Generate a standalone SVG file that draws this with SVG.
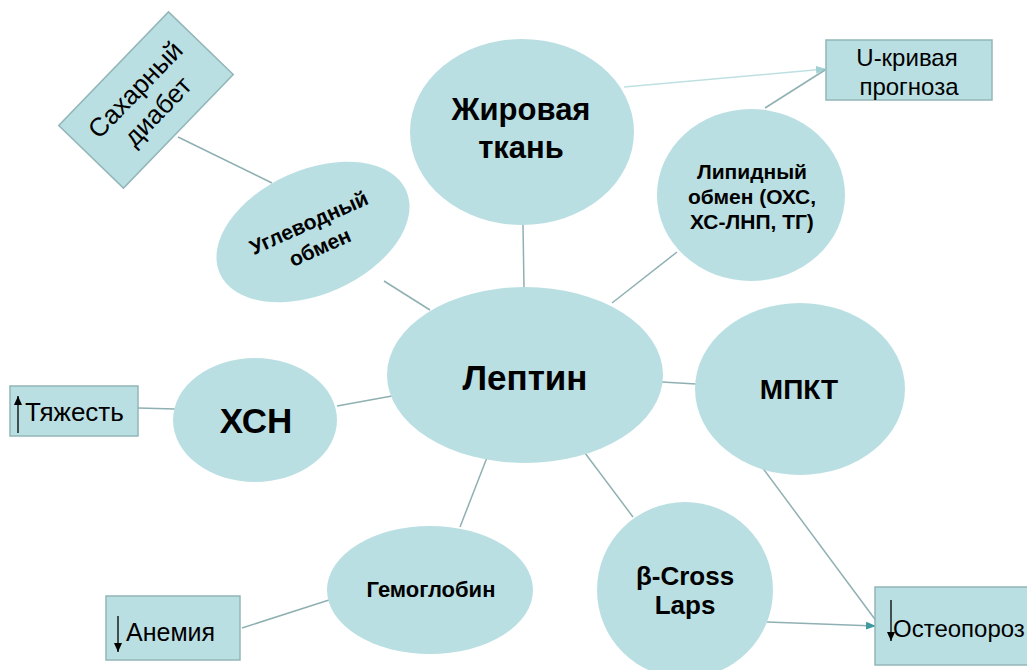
<svg xmlns="http://www.w3.org/2000/svg" width="1027" height="670" viewBox="0 0 1027 670">
  <defs>
    <style>
      .node { fill: #badfe2; }
      .box { fill: #badfe2; stroke: #93b6b8; stroke-width: 1.5; }
      .link { stroke: #8fb0b3; stroke-width: 1.5; fill: none; }
      .link-light { stroke: #bfe0e3; stroke-width: 1.5; fill: none; }
      .bold { font-family: "Liberation Sans", Arial, sans-serif; font-weight: bold; fill: #000; text-anchor: middle; }
      .plain { font-family: "Liberation Sans", Arial, sans-serif; fill: #000; }
      .tick { stroke: #000; stroke-width: 1.3; fill: none; }
    </style>
    <marker id="arrowTeal" markerWidth="10" markerHeight="8" refX="9" refY="4" orient="auto" markerUnits="userSpaceOnUse">
      <path d="M0,0 L10,4 L0,8 Z" fill="#3f9aa0"/>
    </marker>
    <marker id="arrowLight" markerWidth="10" markerHeight="8" refX="9" refY="4" orient="auto" markerUnits="userSpaceOnUse">
      <path d="M0,0 L10,4 L0,8 Z" fill="#9fd0d4"/>
    </marker>
    <marker id="tipUp" markerWidth="8" markerHeight="9" refX="4" refY="0" orient="0" markerUnits="userSpaceOnUse">
      <path d="M0,9 L4,0 L8,9 Z" fill="#000"/>
    </marker>
    <marker id="tipDown" markerWidth="8" markerHeight="9" refX="4" refY="9" orient="0" markerUnits="userSpaceOnUse">
      <path d="M0,0 L8,0 L4,9 Z" fill="#000"/>
    </marker>
  </defs>

  <rect width="1027" height="670" fill="#ffffff"/>

  <!-- connectors -->
  <g id="connectors">
    <line class="link" x1="178" y1="137" x2="272" y2="183"/>
    <line class="link" x1="384" y1="281" x2="430" y2="310"/>
    <line class="link" x1="523" y1="224" x2="524" y2="288"/>
    <line class="link" x1="677" y1="252" x2="612" y2="303"/>
    <line class="link" x1="662" y1="382" x2="696" y2="384"/>
    <line class="link" x1="337" y1="406" x2="392" y2="396"/>
    <line class="link" x1="138" y1="408" x2="175" y2="409"/>
    <line class="link" x1="488" y1="455" x2="460" y2="527"/>
    <line class="link" x1="585" y1="453" x2="633" y2="517"/>
    <line class="link" x1="329" y1="600" x2="242" y2="628"/>
    <line class="link-light" x1="624" y1="87" x2="825" y2="69" marker-end="url(#arrowLight)"/>
    <line class="link" x1="765" y1="108" x2="825" y2="70"/>
    <line class="link" x1="759" y1="463" x2="877" y2="622"/>
    <line class="link" x1="767" y1="622" x2="875" y2="626" marker-end="url(#arrowTeal)"/>
  </g>

  <!-- Сахарный диабет -->
  <g id="diabetes" transform="translate(146,100) rotate(-46)">
    <rect class="box" x="-79" y="-45" width="158" height="90"/>
    <text class="plain" font-size="26" text-anchor="middle" y="-6">Сахарный</text>
    <text class="plain" font-size="26" text-anchor="middle" y="25">диабет</text>
  </g>

  <!-- Углеводный обмен -->
  <g id="carb" transform="translate(313,232) rotate(-24)">
    <ellipse class="node" cx="0" cy="0" rx="102" ry="62"/>
    <text class="bold" font-size="21" y="-3">Углеводный</text>
    <text class="bold" font-size="21" y="24">обмен</text>
  </g>

  <!-- Жировая ткань -->
  <g id="fat">
    <ellipse class="node" cx="522" cy="132" rx="112" ry="93"/>
    <text class="bold" font-size="31" x="521" y="120">Жировая</text>
    <text class="bold" font-size="31" x="521" y="158">ткань</text>
  </g>

  <!-- Липидный обмен -->
  <g id="lipid">
    <ellipse class="node" cx="751" cy="195" rx="94" ry="86"/>
    <text class="bold" font-size="21" x="752" y="179">Липидный</text>
    <text class="bold" font-size="21" x="752" y="204">обмен (ОХС,</text>
    <text class="bold" font-size="21" x="752" y="229">ХС-ЛНП, ТГ)</text>
  </g>

  <!-- U-кривая прогноза -->
  <g id="ucurve">
    <rect class="box" x="826" y="40" width="166" height="60"/>
    <text class="plain" font-size="24" text-anchor="middle" x="907" y="66">U-кривая</text>
    <text class="plain" font-size="24" text-anchor="middle" x="909" y="95">прогноза</text>
  </g>

  <!-- Лептин -->
  <g id="leptin">
    <ellipse class="node" cx="525" cy="375" rx="138" ry="88"/>
    <text class="bold" font-size="35" x="525" y="390">Лептин</text>
  </g>

  <!-- ХСН -->
  <g id="chf">
    <ellipse class="node" cx="255" cy="420" rx="82" ry="62"/>
    <text class="bold" font-size="35" x="256" y="433">ХСН</text>
  </g>

  <!-- Тяжесть -->
  <g id="severity">
    <rect class="box" x="10" y="386" width="128" height="50"/>
    <line class="tick" x1="18" y1="433" x2="18" y2="396" marker-end="url(#tipUp)"/>
    <text class="plain" font-size="26" x="25" y="421">Тяжесть</text>
  </g>

  <!-- МПКТ -->
  <g id="bmd">
    <ellipse class="node" cx="800" cy="389" rx="105" ry="86"/>
    <text class="bold" font-size="28" x="799" y="399">МПКТ</text>
  </g>

  <!-- Гемоглобин -->
  <g id="hemoglobin">
    <ellipse class="node" cx="430" cy="590" rx="103" ry="64"/>
    <text class="bold" font-size="22" x="431" y="597">Гемоглобин</text>
  </g>

  <!-- β-Cross Laps -->
  <g id="crosslaps">
    <ellipse class="node" cx="685" cy="590" rx="88" ry="88"/>
    <text class="bold" font-size="26" x="685" y="585">β-Cross</text>
    <text class="bold" font-size="26" x="685" y="614">Laps</text>
  </g>

  <!-- Анемия -->
  <g id="anemia">
    <rect class="box" x="106" y="596" width="134" height="64"/>
    <line class="tick" x1="118" y1="616" x2="118" y2="652" marker-end="url(#tipDown)"/>
    <text class="plain" font-size="25" x="126" y="641">Анемия</text>
  </g>

  <!-- Остеопороз -->
  <g id="osteoporosis">
    <rect class="box" x="875" y="587" width="160" height="78"/>
    <line class="tick" x1="891" y1="600" x2="891" y2="641" marker-end="url(#tipDown)"/>
    <text class="plain" font-size="24" x="893" y="637">Остеопороз</text>
  </g>
</svg>
